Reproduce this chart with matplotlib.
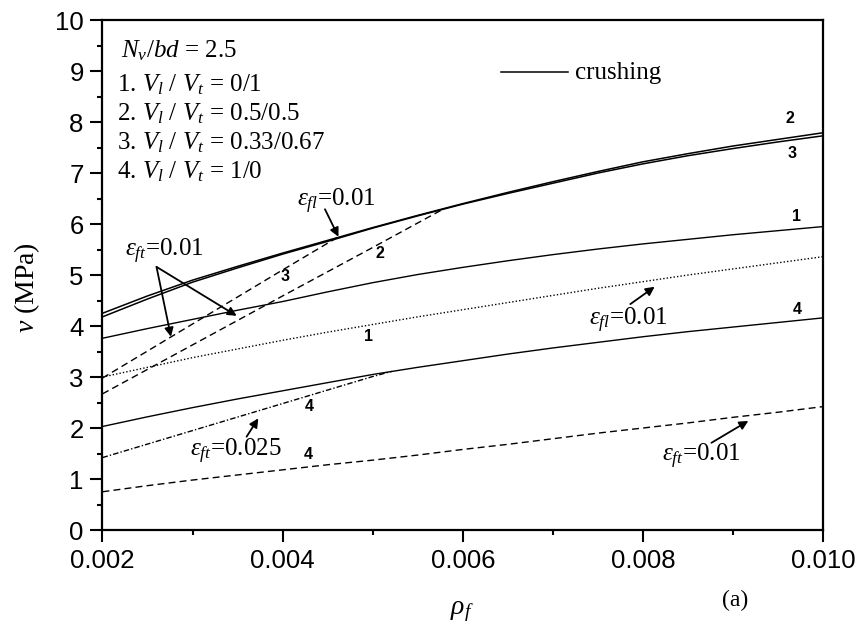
import matplotlib
matplotlib.use('Agg')
import matplotlib.pyplot as plt
from matplotlib.ticker import MultipleLocator, FormatStrFormatter

plt.rcParams['font.family'] = ['Liberation Serif', 'DejaVu Serif']
plt.rcParams['mathtext.fontset'] = 'custom'
plt.rcParams['mathtext.rm'] = 'Liberation Serif'
plt.rcParams['mathtext.it'] = 'Liberation Serif:italic'
plt.rcParams['mathtext.bf'] = 'Liberation Serif:bold'

# rho_f grid (read every 0.0005)
rho = [0.0020, 0.0025, 0.0030, 0.0035, 0.0040, 0.0045, 0.0050, 0.0055, 0.0060,
       0.0065, 0.0070, 0.0075, 0.0080, 0.0085, 0.0090, 0.0095, 0.0100]

# crushing curves (solid)
crush_2 = [4.25, 4.59, 4.90, 5.17, 5.43, 5.68, 5.93, 6.17, 6.40,
           6.62, 6.83, 7.03, 7.22, 7.38, 7.53, 7.66, 7.79]
crush_3 = [4.18, 4.53, 4.86, 5.14, 5.41, 5.66, 5.92, 6.16, 6.39,
           6.60, 6.80, 7.00, 7.18, 7.34, 7.48, 7.61, 7.73]
crush_1 = [3.76, 3.95, 4.13, 4.31, 4.48, 4.67, 4.85, 5.01, 5.15,
           5.28, 5.40, 5.51, 5.61, 5.70, 5.79, 5.87, 5.95]
crush_4 = [2.03, 2.22, 2.40, 2.57, 2.73, 2.89, 3.05, 3.19, 3.32,
           3.45, 3.57, 3.68, 3.79, 3.89, 3.98, 4.07, 4.16]

# other failure curves
dot_1 = [3.00, 3.19, 3.38, 3.55, 3.72, 3.88, 4.03, 4.18, 4.32,
         4.46, 4.60, 4.74, 4.87, 5.00, 5.12, 5.24, 5.36]
dash_4 = [0.75, 0.87, 0.98, 1.08, 1.18, 1.28, 1.37, 1.47, 1.58,
          1.68, 1.79, 1.90, 2.00, 2.10, 2.21, 2.31, 2.42]

rho_d2 = [0.002, 0.003, 0.004, 0.005, 0.00578]
dash_2 = [2.67, 3.63, 4.59, 5.54, 6.29]
rho_d3 = [0.002, 0.003, 0.004, 0.00462]
dash_3 = [2.98, 4.04, 5.10, 5.75]
rho_dd4 = [0.002, 0.003, 0.004, 0.005, 0.00521]
dashdot_4 = [1.42, 1.95, 2.48, 3.01, 3.11]

legend_lines = [r'$N_v/bd$ = 2.5',
                r'1. $V_l$ / $V_t$ = 0/1',
                r'2. $V_l$ / $V_t$ = 0.5/0.5',
                r'3. $V_l$ / $V_t$ = 0.33/0.67',
                r'4. $V_l$ / $V_t$ = 1/0']

fig = plt.figure(figsize=(8.61, 6.3), dpi=100)
ax = fig.add_axes([0.119, 0.1587, 0.837, 0.8095])

ax.plot(rho, crush_2, 'k-', lw=1.1)
ax.plot(rho, crush_3, 'k-', lw=1.1)
ax.plot(rho, crush_1, 'k-', lw=1.0)
ax.plot(rho, crush_4, 'k-', lw=1.0)
ax.plot(rho, dot_1, 'k', ls=(0, (1, 1.5)), lw=1.0)
ax.plot(rho, dash_4, 'k', ls=(0, (5, 3)), lw=1.0)
ax.plot(rho_d2, dash_2, 'k', ls=(0, (5, 3)), lw=1.0)
ax.plot(rho_d3, dash_3, 'k', ls=(0, (5, 3)), lw=1.0)
ax.plot(rho_dd4, dashdot_4, 'k', ls=(0, (4, 1.5, 1, 1.5)), lw=1.0)

ax.set_xlim(0.002, 0.010)
ax.set_ylim(0, 10)
ax.xaxis.set_major_locator(MultipleLocator(0.002))
ax.xaxis.set_minor_locator(MultipleLocator(0.001))
ax.xaxis.set_major_formatter(FormatStrFormatter('%.3f'))
ax.yaxis.set_major_locator(MultipleLocator(1))
ax.yaxis.set_minor_locator(MultipleLocator(0.5))
ax.tick_params(which='both', direction='out', width=1.5, top=False, right=False)
ax.tick_params(which='major', length=8.5, pad=5)
ax.tick_params(which='minor', length=3.6)
for lab in ax.get_xticklabels() + ax.get_yticklabels():
    lab.set_fontfamily('Liberation Sans')
    lab.set_fontsize(18.5)
for sp in ax.spines.values():
    sp.set_linewidth(1.6)

# legend block
ys = [9.27, 8.60, 8.04, 7.47, 6.90]
for i, (txt, yy) in enumerate(zip(legend_lines, ys)):
    ax.text(0.00221 if i == 0 else 0.00216, yy, txt, fontsize=18, va='baseline')

# crushing key
ax.plot([0.00642, 0.00717], [8.98, 8.98], 'k-', lw=1.1)
ax.text(0.00725, 8.84, 'crushing', fontsize=18, va='baseline')

# curve number labels
num_kw = dict(fontsize=11.5, fontfamily='Liberation Sans', fontweight='bold', ha='center', va='center')
for xx, yy, s in [(0.00963, 8.07, '2'), (0.00965, 7.39, '3'), (0.00971, 6.14, '1'),
                  (0.00971, 4.33, '4'), (0.00495, 3.80, '1'), (0.00430, 2.43, '4'),
                  (0.00429, 1.49, '4'), (0.00403, 4.97, '3'), (0.00508, 5.43, '2')]:
    ax.text(xx, yy, s, **num_kw)

arr = dict(arrowstyle='-|>', color='k', lw=1.3, mutation_scale=13, shrinkA=0, shrinkB=0)
ann_kw = dict(fontsize=18, va='baseline')

ax.text(0.00416, 6.34, r'$\varepsilon_{fl}$=0.01', **ann_kw)
ax.annotate('', xy=(0.00462, 5.75), xytext=(0.00447, 6.29), arrowprops=arr)

ax.text(0.00225, 5.36, r'$\varepsilon_{ft}$=0.01', **ann_kw)
ax.annotate('', xy=(0.00276, 3.79), xytext=(0.00260, 5.16), arrowprops=arr)
ax.annotate('', xy=(0.00349, 4.20), xytext=(0.00260, 5.16), arrowprops=arr)

ax.text(0.00740, 4.02, r'$\varepsilon_{fl}$=0.01', **ann_kw)
ax.annotate('', xy=(0.00813, 4.77), xytext=(0.00786, 4.43), arrowprops=arr)

ax.text(0.00297, 1.44, r'$\varepsilon_{ft}$=0.025', **ann_kw)
ax.annotate('', xy=(0.00373, 2.19), xytext=(0.00360, 1.83), arrowprops=arr)

ax.text(0.00821, 1.34, r'$\varepsilon_{ft}$=0.01', **ann_kw)
ax.annotate('', xy=(0.00917, 2.14), xytext=(0.00876, 1.71), arrowprops=arr)

# axis labels
fig.text(27.5 / 861, 1 - 287.5 / 630, r'$v$ (MPa)', fontsize=20, rotation=90,
         ha='center', va='center')
fig.text(462 / 861, 1 - 612 / 630, r'$\rho_f$', fontsize=20, ha='center', va='center')
fig.text(735 / 861, 1 - 600 / 630, '(a)', fontsize=17, ha='center', va='center')

fig.savefig('out.png', dpi=100)
